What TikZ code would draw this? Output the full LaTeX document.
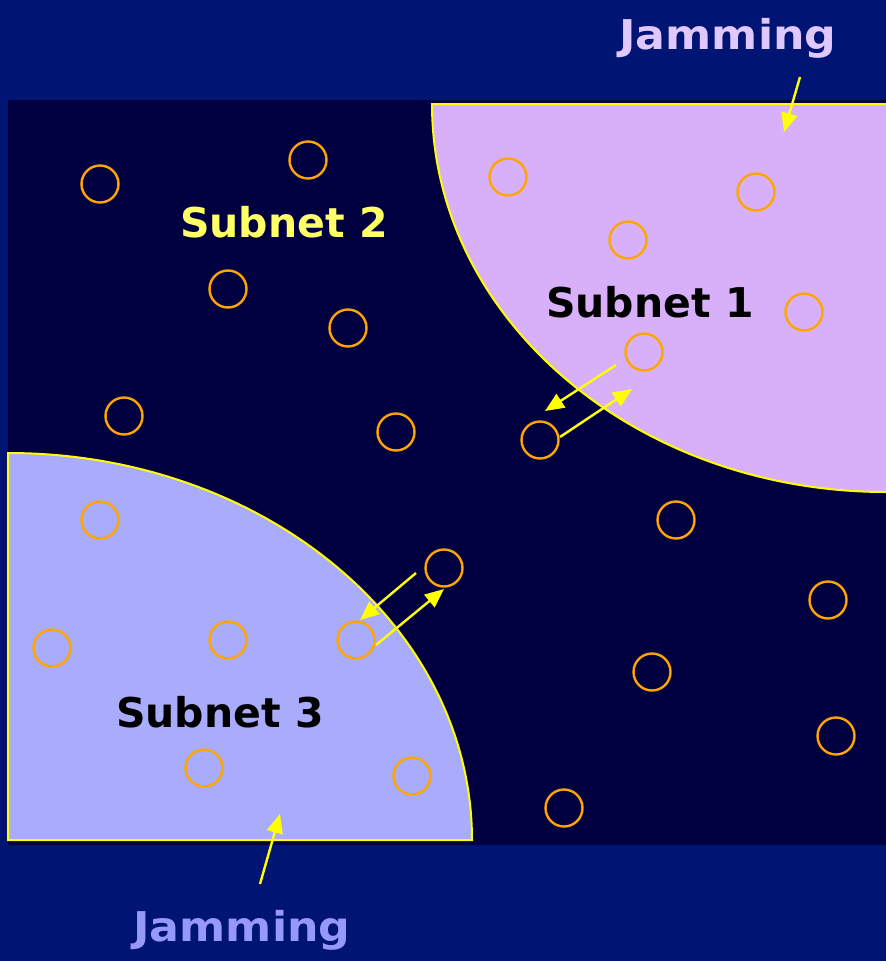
\documentclass[tikz,border=0pt]{standalone}
\usepackage{fontspec}
\setmainfont{DejaVu Sans}
\usetikzlibrary{arrows.meta}
\definecolor{bgNavy}{RGB}{0,20,115}
\definecolor{fieldDark}{RGB}{0,0,64}
\definecolor{zoneOne}{RGB}{216,176,250}
\definecolor{zoneThree}{RGB}{168,172,250}
\definecolor{zoneEdge}{RGB}{255,255,0}
\definecolor{stationOrange}{RGB}{255,165,0}
\definecolor{jamTopText}{RGB}{224,200,255}
\definecolor{jamBotText}{RGB}{150,152,250}
\definecolor{subTwoText}{RGB}{255,255,102}
\tikzset{
station/.style={draw=stationOrange, line width=2.4pt, circle, inner sep=0, minimum size=37pt},
jamzone/.style={draw=zoneEdge, line width=2pt},
%
linkarrow/.style={draw=zoneEdge, line width=2.4pt, -{Triangle[length=19pt,width=16pt]}},
bigtext/.style={font=\fontsize{41}{44}\selectfont\bfseries, inner sep=0},
}
\begin{document}
\begin{tikzpicture}[x=1pt,y=-1pt]
        \useasboundingbox (0,0) rectangle (886,961);
        \fill[bgNavy] (0,0) rectangle (886,961);
        \fill[fieldDark] (8,100) rectangle (886,845);
        % jammed zones
        \fill[zoneOne] (886,104) -- (432,104) arc[start angle=180, end angle=90, x radius=454, y radius=388] -- cycle;
        \draw[jamzone] (886,104) -- (432,104) arc[start angle=180, end angle=90, x radius=454, y radius=388];
        \fill[zoneThree,jamzone] (8,840) -- (8,453) arc[start angle=-90, end angle=0, x radius=464, y radius=387] -- cycle;
        % stations
        \foreach \i/\x/\y in {1/100/184,2/308/160,3/228/289,4/348/328,5/124/416,6/396/432,
                              7/508/177,8/628/240,9/756/192,10/804/312,11/644/352,12/540/440,
                              13/676/520,14/828/600,15/652/672,16/836/736,17/564/808,18/100/520,
                              19/52/648,20/228/640,21/356/640,22/444/568,23/204/768,24/412/776}  {
            \node[station] (s\i) at (\x,\y) {};
        }
        \node[bigtext, text=subTwoText] (sub2) at (284,222) {Subnet 2};
        \node[bigtext, text=black] (sub1) at (650,302) {Subnet 1};
        \node[bigtext, text=black] (sub3) at (220,712) {Subnet 3};
        \node[bigtext, text=jamTopText, xscale=1.08] (jamtop) at (728,38) {Jamming};
        \node[bigtext, text=jamBotText, xscale=1.08] (jambot) at (242,930) {Jamming};
        % links across the zone edges
        \coordinate (a1s) at (616,365);
        \coordinate (a1e) at (545,411);
        \coordinate (a2s) at (560,437);
        \coordinate (a2e) at (632,389);
        \coordinate (a3s) at (416,573);
        \coordinate (a3e) at (360,620);
        \coordinate (a4s) at (376,645);
        \coordinate (a4e) at (444,589);
        \draw[linkarrow] (a1s) -- (a1e);
        \draw[linkarrow] (a2s) -- (a2e);
        \draw[linkarrow] (a3s) -- (a3e);
        \draw[linkarrow] (a4s) -- (a4e);
        % jamming pointers
        \coordinate (jts) at (800,77);
        \coordinate (jte) at (784,132);
        \coordinate (jbs) at (260,884);
        \coordinate (jbe) at (280,814);
        \draw[linkarrow] (jts) -- (jte);
        \draw[linkarrow] (jbs) -- (jbe);
    \end{tikzpicture}
\end{document}
